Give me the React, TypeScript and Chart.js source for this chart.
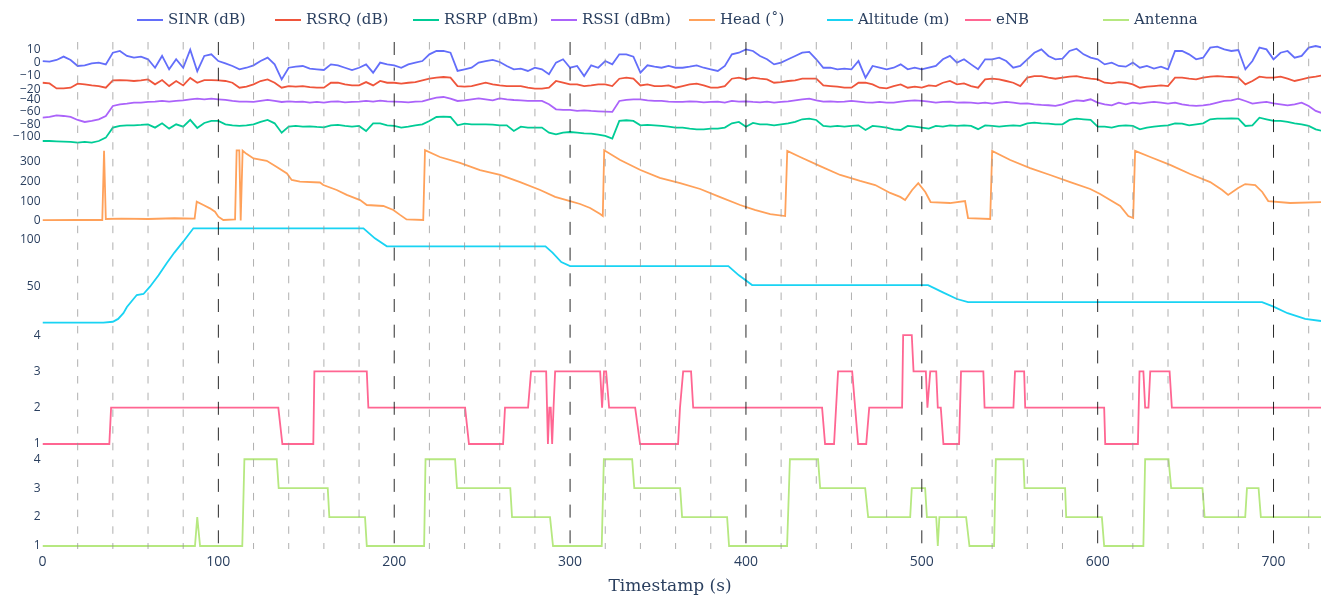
import { useEffect, useRef } from "react";
import { Chart, registerables } from "chart.js";

Chart.register(...registerables);

// Radio measurements, sampled every 4 s from t = 0
const SAMPLE_STEP_S = 4;

const sinrDb = [
  1.1, 0.6, 1.9, 4.4, 1.9, -2.6, -2.1, -0.6, -0.1, -1.4, 7.3, 8.6,
  4.9, 3.6, 4.4, 2.4, -3.9, 4.9, -5.1, 2.4, -3.9, 9.5, -6.5, 4.9,
  6.1, 1.1, -0.6, -2.6, -5.1, -3.9, -2.1, 1.1, 3.6, -1.4, -12.6, -3.9,
  -3.1, -2.6, -4.6, -5.1, -5.6, -1.4, -2.1, -3.9, -5.6, -3.9, -1.4, -7.6,
  -0.1, -1.4, -2.1, -3.9, -1.4, -0.1, 1.1, 6.1, 8.6, 8.6, 7.3, -6.3,
  -5.1, -3.9, -0.1, 1.1, 1.9, 0.4, -2.6, -5.1, -4.6, -6.3, -3.9, -5.1,
  -8.8, -0.1, 2.4, -3.9, -2.6, -10.1, -2.1, -3.9, 1.1, -1.4, 6.1, 6.1,
  4.4, -7.6, -2.1, -3.1, -3.9, -2.6, -3.9, -3.9, -3.1, -2.1, -3.9, -5.1,
  -6.3, -2.6, 6.1, 7.3, 9.8, 8.6, 4.9, 2.4, -1.4, -0.1, 2.4, 4.9,
  7.3, 7.9, 2.4, -3.9, -3.9, -5.1, -4.6, -5.1, 1.1, -11.3, -2.6, -3.9,
  -5.1, -3.9, -1.4, -5.1, -3.9, -5.1, -3.9, -2.6, 2.4, 4.9, -0.1, 2.4,
  -1.4, -5.1, 2.4, 2.4, 3.6, 1.1, -3.9, -2.6, 2.4, 7.3, 9.8, 4.9,
  2.4, 2.9, 8.6, 10.3, 6.1, 3.6, 2.4, -1.4, -0.1, -2.6, -3.1, -0.1,
  -3.9, -2.6, -4.6, -3.1, -5.1, 8.6, 8.6, 6.1, 2.4, 3.6, 11.1, 11.8,
  9.8, 8.6, 9.3, -5.1, 1.1, 11.1, 9.8, 2.4, 7.3, 8.6, 3.6, 4.9,
  11.1, 12.3, 11.1,
];

const rsrqDb = [
  -15.1, -15.6, -19.3, -19.3, -18.8, -15.8, -16.3, -17.1, -17.6, -18.8, -13.3, -13.1,
  -13.3, -13.8, -13.3, -12.6, -16.3, -13.1, -17.6, -13.8, -17.1, -11.5, -15.1, -13.1,
  -13.1, -13.3, -13.8, -15.1, -18.8, -18.0, -16.3, -13.8, -12.6, -15.1, -18.8, -17.6,
  -18.0, -17.6, -18.3, -18.8, -18.8, -15.1, -15.1, -16.3, -17.1, -17.1, -14.6, -17.1,
  -13.8, -15.1, -15.1, -15.8, -15.1, -14.6, -13.3, -12.1, -11.3, -10.8, -11.3, -17.6,
  -18.0, -17.6, -16.3, -15.1, -16.3, -17.1, -17.6, -17.6, -17.6, -18.8, -19.5, -19.5,
  -18.8, -13.8, -15.1, -16.3, -16.3, -17.6, -17.1, -16.3, -16.3, -17.6, -12.1, -11.3,
  -12.1, -17.1, -16.3, -17.6, -17.6, -17.1, -18.8, -17.6, -16.3, -15.8, -17.1, -18.8,
  -18.8, -17.6, -12.1, -11.3, -12.6, -11.3, -12.1, -12.6, -15.1, -14.6, -13.8, -13.3,
  -12.1, -12.1, -12.1, -17.1, -17.6, -18.0, -18.8, -18.8, -15.1, -15.1, -16.3, -18.8,
  -19.3, -17.6, -16.3, -18.8, -18.0, -18.8, -17.1, -17.6, -15.1, -13.8, -16.3, -15.6,
  -17.6, -18.8, -12.6, -12.1, -12.6, -13.8, -15.1, -17.6, -11.3, -10.1, -10.1, -11.3,
  -12.1, -11.3, -10.6, -10.1, -11.3, -12.1, -12.6, -15.1, -15.6, -14.6, -15.1, -16.3,
  -18.8, -18.0, -17.6, -17.1, -17.6, -11.3, -11.3, -12.1, -12.6, -11.3, -10.6, -10.1,
  -10.6, -10.8, -11.3, -16.3, -13.8, -10.6, -11.3, -11.3, -10.6, -12.1, -13.8, -12.6,
  -11.3, -10.6, -9.6,
];

const rsrpDbm = [
  -107.0, -107.0, -107.5, -108.0, -108.5, -109.6, -108.5, -109.6, -107.0, -101.6, -85.5, -82.8,
  -81.8, -81.8, -81.2, -80.2, -85.5, -78.6, -87.1, -80.2, -83.9, -73.0, -86.0, -78.0,
  -74.8, -74.8, -80.2, -81.8, -82.8, -81.8, -80.2, -76.4, -73.2, -78.6, -93.6, -83.9,
  -82.8, -83.9, -83.4, -84.4, -85.0, -81.8, -81.2, -82.8, -83.9, -82.8, -90.9, -78.6,
  -78.6, -81.8, -82.8, -85.5, -83.9, -81.8, -80.2, -74.8, -68.4, -67.8, -68.4, -81.8,
  -79.1, -80.2, -80.2, -80.2, -80.7, -81.8, -81.8, -90.9, -83.9, -85.5, -85.5, -85.5,
  -93.6, -96.2, -93.6, -92.5, -93.6, -94.6, -95.2, -96.8, -98.9, -103.0, -74.8, -73.7,
  -74.8, -81.8, -81.2, -81.8, -82.8, -83.9, -85.5, -85.5, -87.1, -88.2, -88.2, -87.1,
  -87.1, -85.5, -78.6, -76.4, -84.0, -78.0, -80.2, -80.2, -81.8, -80.2, -78.6, -76.4,
  -72.1, -71.1, -73.2, -82.8, -83.9, -82.8, -83.9, -82.8, -81.8, -89.3, -82.8, -83.9,
  -85.5, -88.2, -89.3, -82.8, -83.9, -85.5, -87.1, -82.8, -83.9, -81.8, -82.8, -81.8,
  -82.8, -88.0, -82.0, -82.8, -83.9, -82.8, -81.8, -82.8, -78.6, -77.5, -78.6, -79.1,
  -80.2, -80.2, -73.2, -71.1, -72.1, -73.2, -83.9, -83.9, -85.5, -82.8, -81.8, -82.8,
  -88.2, -85.5, -83.9, -82.8, -81.8, -78.6, -79.1, -81.8, -80.2, -78.6, -72.1, -71.1,
  -71.1, -70.6, -71.1, -82.8, -81.8, -69.5, -72.1, -74.8, -74.8, -76.4, -78.6, -80.2,
  -82.8, -88.2, -90.9,
];

const rssiDbm = [
  -69.5, -68.4, -65.7, -66.8, -68.4, -73.2, -76.4, -74.8, -72.1, -66.8, -50.7, -48.0,
  -47.0, -45.4, -45.4, -44.3, -43.7, -42.7, -43.7, -42.7, -41.6, -40.0, -38.9, -40.0,
  -38.9, -40.0, -41.0, -42.7, -43.7, -43.7, -44.3, -42.7, -41.0, -42.7, -44.3, -43.2,
  -44.3, -43.7, -45.4, -44.3, -45.4, -43.7, -43.2, -44.8, -44.3, -43.7, -42.7, -43.7,
  -42.1, -43.2, -43.7, -44.3, -44.8, -43.7, -43.2, -40.0, -37.3, -36.3, -38.9, -42.7,
  -41.6, -40.0, -38.4, -40.0, -41.6, -38.4, -40.0, -41.1, -41.6, -42.7, -42.7, -42.7,
  -48.0, -56.1, -57.1, -57.1, -58.7, -57.7, -58.7, -59.3, -59.8, -60.3, -42.7, -41.1,
  -40.0, -40.0, -41.6, -42.7, -42.7, -43.7, -44.3, -44.3, -43.2, -43.7, -44.8, -44.3,
  -43.7, -45.4, -42.7, -43.7, -43.2, -44.3, -44.8, -43.7, -45.4, -44.3, -43.2, -41.6,
  -40.0, -38.9, -41.6, -43.7, -43.2, -44.3, -43.7, -42.7, -43.7, -44.8, -45.4, -44.3,
  -45.4, -45.4, -43.7, -42.7, -41.6, -42.7, -43.7, -45.4, -44.3, -43.7, -45.4, -44.8,
  -45.4, -46.4, -45.4, -47.0, -45.4, -44.3, -45.4, -47.0, -46.4, -48.0, -49.1, -49.6,
  -50.7, -48.0, -44.3, -41.6, -42.7, -40.0, -45.4, -48.0, -49.6, -45.4, -48.0, -45.4,
  -47.0, -45.4, -44.3, -45.4, -47.0, -45.4, -48.0, -49.6, -50.7, -49.6, -48.0, -45.4,
  -42.7, -41.6, -38.9, -42.7, -47.0, -45.4, -44.3, -46.4, -48.0, -49.6, -48.0, -45.4,
  -50.7, -58.7, -62.5,
];

// Heading of the drone (degrees), as (time, value) breakpoints
const headTimes = [
  0, 20, 34, 35, 36, 45, 60, 75, 86.5, 87.7, 91.5, 95.2, 98.1, 100, 102.8, 109.5,
  110.4, 111.9, 112.7, 113.8, 116, 120, 127.5, 133, 139, 141.7, 146.4, 157.8, 159.7,
  167.3, 173, 180.6, 184.4, 193.8, 199.5, 203.3, 207, 216.5,
  217.5, 226, 237.4, 248.8, 260.2, 271.6, 283, 291.5, 300, 305.7, 311.4, 317.1, 318.6,
  319.4, 328.5, 340, 351, 362.6, 374, 385, 396.7, 405, 413.8, 422.3,
  423.5, 430.8, 442.2, 453.6, 464.9, 473.5, 482, 487.7, 490.5, 494.5, 498, 502, 505,
  516, 524.6, 526.3, 538.9,
  540, 550.3, 561.6, 573, 584.4, 595.8, 601.4, 607.1, 612.8, 617.4, 620.2,
  621.3, 629.9, 641.2, 652.6, 664, 670.8, 674.2, 679.9, 683.9, 689.6, 693.6, 697,
  709.5, 727,
];
const headDeg = [
  4, 5, 5, 356, 10, 12, 10, 14, 12, 98, 81, 64, 47, 22, 5, 8,
  358, 358, 3, 356, 340, 317, 305, 275, 241, 208, 199, 195, 182,
  157, 132, 106, 81, 76, 56, 31, 8, 5,
  359, 324, 294, 258, 233, 197, 157, 122, 101, 86, 66, 35, 25,
  358, 309, 258, 218, 192, 162, 122, 81, 56, 35, 25,
  355, 324, 278, 233, 203, 182, 142, 122, 106, 157, 192, 147, 96,
  91, 101, 15, 10,
  355, 309, 268, 233, 197, 162, 137, 106, 76, 25, 15,
  355, 324, 284, 238, 197, 157, 132, 167, 187, 182, 147, 101,
  91, 96,
];

// Altitude (m)
const altitudeTimes = [
  0, 34.6, 40, 43, 46, 48, 53.6, 57.4, 61.1, 66, 70.6, 75, 80, 85.8,
  182.5, 189, 195.8, 286, 290, 295, 300, 390, 396, 403.5, 503.6, 512, 520, 526.3,
  693.5, 700, 708, 718, 727,
];
const altitudeM = [
  12, 12, 13, 16, 22, 28.6, 41.2, 42.3, 50, 62, 74.7, 86, 97.5, 111.6,
  111.6, 101, 92.6, 92.6, 86, 76, 71.8, 71.8, 62, 51.7, 51.7, 44, 37, 33.8,
  33.8, 29, 22, 16, 13.8,
];

// Serving eNB index
const enbTimes = [
  0, 38, 39, 134.1, 136.4, 154, 154.6, 184.4, 185.3,
  240.3, 242.5, 261.9, 263, 276.1, 277.8, 286.4, 287.4, 288.2, 289, 289.8, 290.6, 291.5,
  317.1, 318.2, 319.3, 320.5, 322.2, 337, 339.8, 361.4, 362.5, 364.3, 368.8, 370,
  443.3, 445, 450.1, 452.4, 460.4, 463.8, 468.4, 470.1,
  488.8, 489.4, 494.3, 495.3, 502.3, 503.2, 504.8, 508.2, 509.1, 510.8, 512.3,
  521.2, 522.3, 535, 535.7, 552.1, 553, 558.2, 558.8, 603.7, 604.3,
  622.9, 623.8, 626, 627, 628.9, 629.9, 640.9, 642.2, 727,
];
const enbIds = [
  1, 1, 2, 2, 1, 1, 3, 3, 2,
  2, 1, 1, 2, 2, 3, 3, 1, 2, 2, 1, 2, 3,
  3, 2, 3, 3, 2, 2, 1, 1, 2, 3, 3, 2,
  2, 1, 1, 3, 3, 1, 1, 2,
  2, 4, 4, 3, 3, 2, 3, 3, 2, 2, 1,
  1, 3, 3, 2, 2, 3, 3, 2, 2, 1,
  1, 3, 3, 2, 2, 3, 3, 2, 2,
];

// Active antenna index
const antennaTimes = [
  0, 86.7, 88, 89.6, 113.6, 114.8, 133.2, 134.3, 162.2, 163.1, 183.4, 184.4,
  217, 217.8, 234.6, 235.7, 266, 267, 288.6, 290.3, 318, 319.2, 335.3, 336.5,
  362.6, 363.7, 389.3, 390.4, 423.4, 425, 441, 442.2, 467.8, 469.5,
  493.4, 494.3, 501.9, 502.9, 508.2, 509.1, 510, 525.2, 527.1, 541.1, 542.1,
  557.8, 558.4, 581.5, 582.1, 602.4, 603.7, 626, 627, 640.3, 641.8, 659.6, 660.8,
  683.9, 684.9, 691.5, 692.8, 727,
];
const antennaIds = [
  1, 1, 2, 1, 1, 4, 4, 3, 3, 2, 2, 1,
  1, 4, 4, 3, 3, 2, 2, 1, 1, 4, 4, 3,
  3, 2, 2, 1, 1, 4, 4, 3, 3, 2,
  2, 3, 3, 2, 2, 1, 2, 2, 1, 1, 4,
  4, 3, 3, 2, 2, 1, 1, 4, 4, 3, 3, 2,
  2, 3, 3, 2, 2,
];

// Axis tick values
const timeTicks = [0, 100, 200, 300, 400, 500, 600, 700];
const signalTicks = [-20, -10, 0, 10];
const powerTicks = [-100, -80, -60, -40];
const headTicks = [0, 100, 200, 300];
const altitudeTicks = [50, 100];
const enbTicks = [1, 2, 3, 4];
const antennaTicks = [1, 2, 3, 4];

const TEXT_COLOR = "#2a3f5f";
const TICK_FONT = "Open Sans";
const SERIF_FONT = "DejaVu Serif";
const WIDTH = 1321;
const HEIGHT = 595;
const AXIS_WIDTH = 42.5;
const TIME_MAX = 727;

const toPoints = (xs: number[], ys: number[]) => xs.map((x, i) => ({ x, y: ys[i] }));
const sampleTimes = sinrDb.map((_, i) => i * SAMPLE_STEP_S);

const formatTick = (v: number | string) => {
  const n = Number(v);
  return n < 0 ? "\u2212" + Math.abs(n) : String(n);
};

function panelAxis(min: number, max: number, ticks: number[], heightPx: number, order: number) {
  return {
    type: "linear" as const,
    position: "left" as const,
    stack: "panels",
    stackWeight: heightPx,
    weight: order,
    bounds: "data" as const,
    min,
    max,
    afterBuildTicks: (axis: any) => {
      axis.ticks = ticks.map((value) => ({ value }));
    },
    afterFit: (axis: any) => {
      axis.width = AXIS_WIDTH;
    },
    grid: { display: false, drawTicks: false },
    border: { display: false },
    ticks: {
      autoSkip: false,
      padding: 2,
      color: TEXT_COLOR,
      font: { family: TICK_FONT, size: 12 },
      callback: formatTick,
    },
  };
}

// Dashed time markers: light every 20 s, dark every 100 s
const timeMarkerPlugin = {
  id: "timeMarkers",
  afterDatasetsDraw(chart: any) {
    const { ctx, chartArea, scales } = chart;
    const x = scales.x;
    ctx.save();
    ctx.lineWidth = 1;
    for (let t = 20; t <= TIME_MAX; t += 20) {
      const major = t % 100 === 0;
      const px = x.getPixelForValue(t);
      ctx.strokeStyle = major ? "rgba(20,20,20,0.9)" : "rgba(150,150,150,0.75)";
      ctx.setLineDash(major ? [13, 12.7] : [7.5, 9.2]);
      ctx.beginPath();
      ctx.moveTo(px, chartArea.top);
      ctx.lineTo(px, chartArea.bottom);
      ctx.stroke();
    }
    ctx.restore();
  },
};

// Horizontal legend with evenly spaced entries, plus the x-axis title
const legendPlugin = {
  id: "traceLegend",
  afterDraw(chart: any) {
    const { ctx } = chart;
    ctx.save();
    ctx.font = `15px "${SERIF_FONT}"`;
    ctx.textBaseline = "alphabetic";
    ctx.textAlign = "left";
    chart.data.datasets.forEach((ds: any, i: number) => {
      const x0 = 137 + i * 138;
      ctx.strokeStyle = ds.borderColor;
      ctx.lineWidth = 2;
      ctx.beginPath();
      ctx.moveTo(x0, 20);
      ctx.lineTo(x0 + 26, 20);
      ctx.stroke();
      ctx.fillStyle = TEXT_COLOR;
      ctx.fillText(ds.label, x0 + 31, 23.5);
    });
    ctx.font = `17px "${SERIF_FONT}"`;
    ctx.textAlign = "center";
    ctx.fillText("Timestamp (s)", 670, 591);
    ctx.restore();
  },
};

const lineStyle = {
  borderWidth: 1.8,
  pointRadius: 0,
  tension: 0,
  fill: false,
};

export default function App() {
  const canvasRef = useRef<HTMLCanvasElement | null>(null);

  useEffect(() => {
    const canvas = canvasRef.current;
    if (!canvas) return;
    const chart = new Chart(canvas, {
      type: "line",
      data: {
        datasets: [
          { label: "SINR (dB)", data: toPoints(sampleTimes, sinrDb), borderColor: "#636efa", yAxisID: "ySignal", ...lineStyle },
          { label: "RSRQ (dB)", data: toPoints(sampleTimes, rsrqDb), borderColor: "#EF553B", yAxisID: "ySignal", ...lineStyle },
          { label: "RSRP (dBm)", data: toPoints(sampleTimes, rsrpDbm), borderColor: "#00cc96", yAxisID: "yPower", ...lineStyle },
          { label: "RSSI (dBm)", data: toPoints(sampleTimes, rssiDbm), borderColor: "#ab63fa", yAxisID: "yPower", ...lineStyle },
          { label: "Head (\u02DA)", data: toPoints(headTimes, headDeg), borderColor: "#FFA15A", yAxisID: "yHead", ...lineStyle },
          { label: "Altitude (m)", data: toPoints(altitudeTimes, altitudeM), borderColor: "#19d3f3", yAxisID: "yAltitude", ...lineStyle },
          { label: "eNB", data: toPoints(enbTimes, enbIds), borderColor: "#FF6692", yAxisID: "yEnb", ...lineStyle },
          { label: "Antenna", data: toPoints(antennaTimes, antennaIds), borderColor: "#B6E880", yAxisID: "yAntenna", ...lineStyle },
        ] as any,
      },
      options: {
        animation: false,
        responsive: false,
        devicePixelRatio: 1,
        parsing: false,
        normalized: true,
        layout: { padding: { top: 42, left: 0, right: 0, bottom: 0 } },
        plugins: {
          legend: { display: false },
          tooltip: { enabled: false },
        },
        scales: {
          x: {
            type: "linear",
            bounds: "data",
            min: 0,
            max: TIME_MAX,
            afterBuildTicks: (axis: any) => {
              axis.ticks = timeTicks.map((value) => ({ value }));
            },
            afterFit: (axis: any) => {
              axis.height = 46;
            },
            grid: { display: false, drawTicks: false },
            border: { display: false },
            ticks: {
              autoSkip: false,
              maxRotation: 0,
              padding: 5,
              color: TEXT_COLOR,
              font: { family: TICK_FONT, size: 14 },
            },
          },
          ySignal: panelAxis(-23.5, 15.3, signalTicks, 52, 6),
          yPower: panelAxis(-113.4, -31.5, powerTicks, 51, 5),
          yHead: panelAxis(-20.3, 384.8, headTicks, 80, 4),
          yAltitude: panelAxis(4.3, 115.1, altitudeTicks, 105, 3),
          yEnb: panelAxis(0.78, 4.14, enbTicks, 122, 2),
          yAntenna: panelAxis(0.896, 4.25, antennaTicks, 97, 1),
        } as any,
      },
      plugins: [timeMarkerPlugin, legendPlugin],
    });
    return () => chart.destroy();
  }, []);

  return (
    <canvas
      ref={canvasRef}
      width={WIDTH}
      height={HEIGHT}
      style={{ position: "fixed", left: 0, top: 0, width: WIDTH, height: HEIGHT, background: "#fff" }}
    />
  );
}
